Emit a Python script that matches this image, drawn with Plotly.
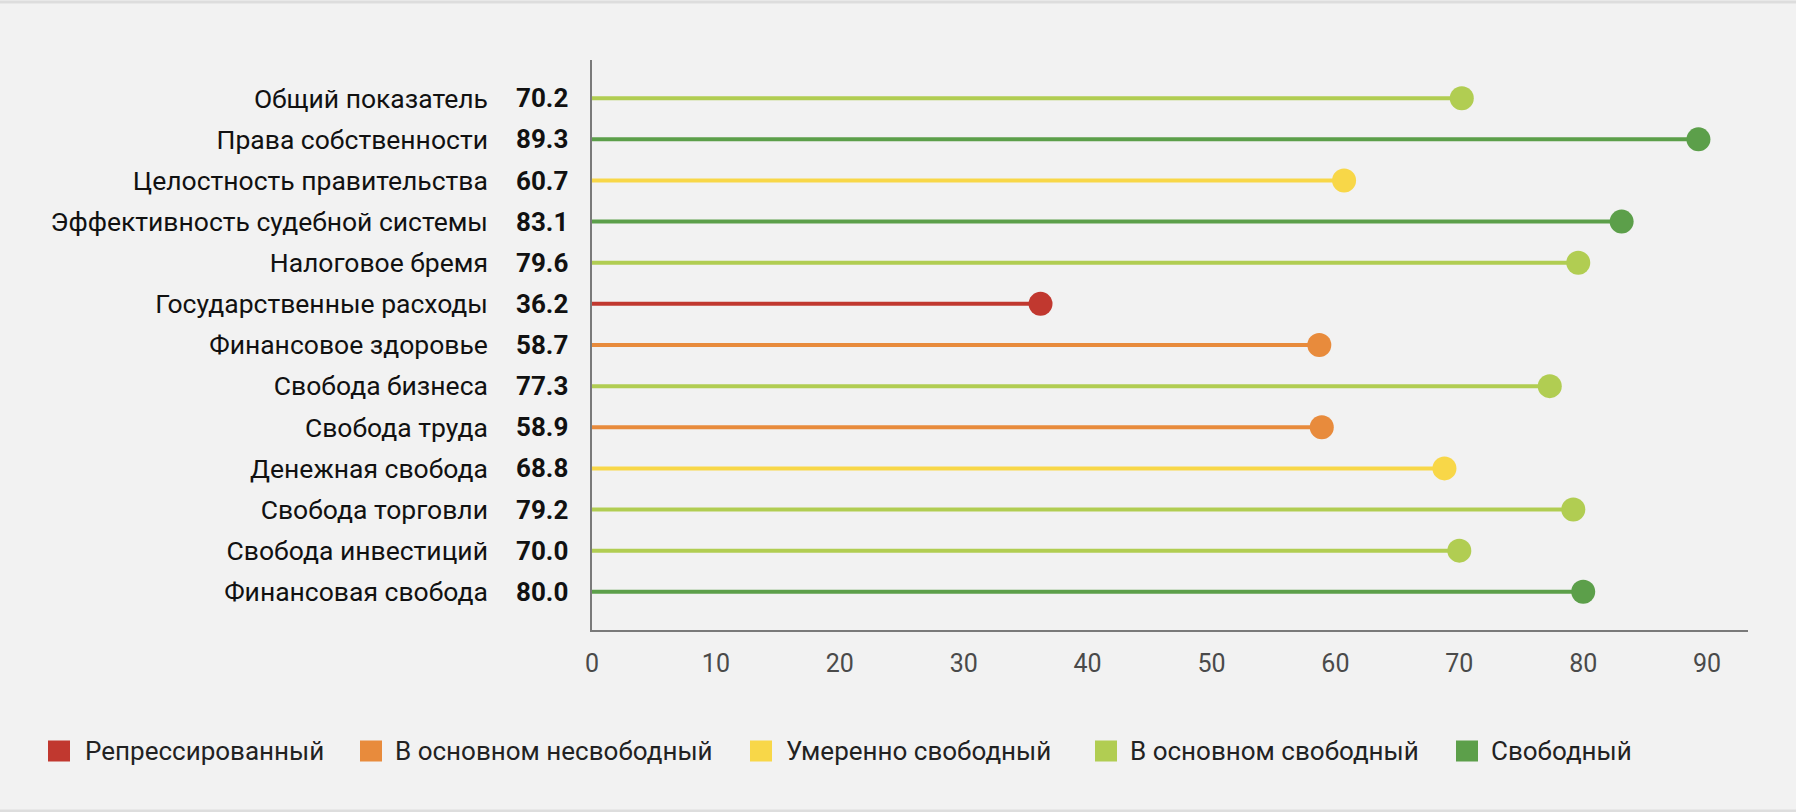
import plotly.graph_objects as go

# ---- data ----
categories = [
    "Общий показатель",
    "Права собственности",
    "Целостность правительства",
    "Эффективность судебной системы",
    "Налоговое бремя",
    "Государственные расходы",
    "Финансовое здоровье",
    "Свобода бизнеса",
    "Свобода труда",
    "Денежная свобода",
    "Свобода торговли",
    "Свобода инвестиций",
    "Финансовая свобода",
]
values = [70.2, 89.3, 60.7, 83.1, 79.6, 36.2, 58.7, 77.3, 58.9, 68.8, 79.2, 70.0, 80.0]
# status index into legend_labels
status = [3, 4, 2, 4, 3, 0, 1, 3, 1, 2, 3, 3, 4]
legend_labels = ["Репрессированный", "В основном несвободный", "Умеренно свободный",
                 "В основном свободный", "Свободный"]
status_colors = ["#C1382F", "#E88B3C", "#F8D748", "#B1CD52", "#5C9F4A"]
x_ticks = [0, 10, 20, 30, 40, 50, 60, 70, 80, 90]

FONT = "Roboto"
BG = "#F2F2F2"

# geometry (px)
W, H = 1796, 812
L, R, T, B = 592, 48, 60, 182
plot_w = W - L - R
plot_h = H - T - B

def px_x(px):
    return (px - L) / plot_w

def px_y(py):
    return (H - B - py) / plot_h

fig = go.Figure()

# lines + dots grouped by status
for s, color in enumerate(status_colors):
    xs, ys, mx, my = [], [], [], []
    for c, v, st in zip(categories, values, status):
        if st == s:
            xs += [0, v, None]
            ys += [c, c, None]
            mx.append(v)
            my.append(c)
    if not mx:
        continue
    fig.add_trace(go.Scatter(x=xs, y=ys, mode="lines",
                             line=dict(color=color, width=4),
                             hoverinfo="skip", showlegend=False))
    fig.add_trace(go.Scatter(x=mx, y=my, mode="markers",
                             marker=dict(color=color, size=24, line=dict(width=0)),
                             showlegend=False))

annotations = []
# bold values column
for c, v in zip(categories, values):
    annotations.append(dict(x=0, xref="paper", y=c, yref="y", text=f"<b>{v:.1f}</b>",
                            xanchor="right", yanchor="middle", xshift=-22, showarrow=False,
                            font=dict(family=FONT, size=26, color="#111111")))

# manual legend
legend_sq_x = [48, 360, 750, 1095, 1456]
legend_txt_x = [83, 393, 784, 1128, 1489]
legend_y = 751
shapes = []
for i, lab in enumerate(legend_labels):
    shapes.append(dict(type="rect", xref="paper", yref="paper",
                       x0=px_x(legend_sq_x[i]), x1=px_x(legend_sq_x[i] + 22),
                       y0=px_y(legend_y - 10.5), y1=px_y(legend_y + 10.5),
                       fillcolor=status_colors[i], line=dict(width=0)))
    annotations.append(dict(x=px_x(legend_txt_x[i]), xref="paper", y=px_y(legend_y), yref="paper",
                            text=lab, xanchor="left", yanchor="middle", showarrow=False,
                            font=dict(family=FONT, size=26, color="#222222")))

# page border lines
shapes.append(dict(type="line", xref="paper", yref="paper", x0=px_x(0), x1=px_x(W),
                   y0=px_y(2), y1=px_y(2), line=dict(color="#DDDDDD", width=3)))
shapes.append(dict(type="line", xref="paper", yref="paper", x0=px_x(0), x1=px_x(W),
                   y0=px_y(811), y1=px_y(811), line=dict(color="#DDDDDD", width=3)))

fig.update_layout(
    width=W, height=H,
    margin=dict(l=L, r=R, t=T, b=B, pad=0),
    paper_bgcolor=BG, plot_bgcolor=BG,
    showlegend=False,
    annotations=annotations,
    shapes=shapes,
    xaxis=dict(range=[0, 93.3], tickvals=x_ticks, showgrid=False, zeroline=False,
               showline=True, linecolor="#7A7A7A", linewidth=2, ticks="",
               tickfont=dict(family=FONT, size=25, color="#4A4A4A"), ticklabelstandoff=10,
               fixedrange=True),
    yaxis=dict(type="category", categoryorder="array", categoryarray=categories[::-1],
               range=[-0.93, 12.93], showgrid=False, zeroline=False,
               showline=True, linecolor="#7A7A7A", linewidth=1.5, ticks="",
               tickfont=dict(family=FONT, size=26.5, color="#111111"), ticklabelstandoff=97,
               fixedrange=True),
)

fig.write_html("out.html")
